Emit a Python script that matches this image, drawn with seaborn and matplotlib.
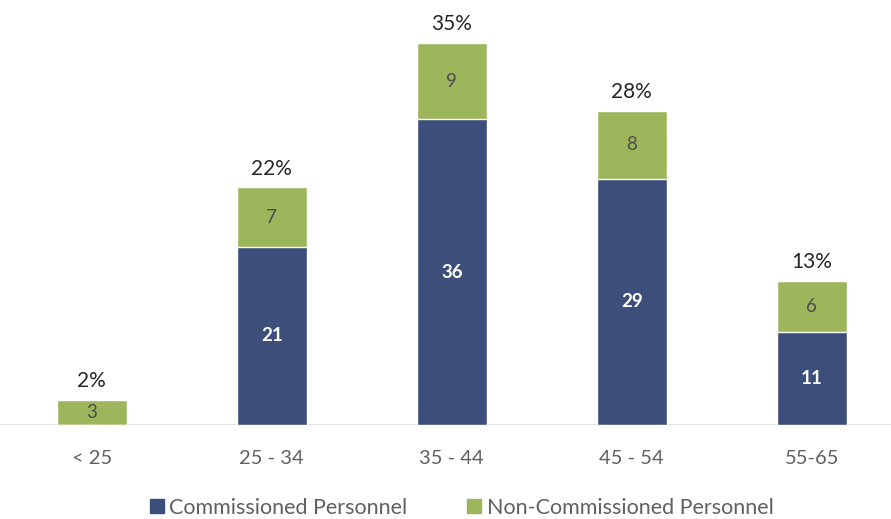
import matplotlib
matplotlib.use("Agg")
import matplotlib.pyplot as plt
import seaborn as sns
import pandas as pd
from matplotlib.patches import Patch

# chart data
age_groups = ["< 25", "25 - 34", "35 - 44", "45 - 54", "55-65"]
commissioned = [0, 21, 36, 29, 11]
non_commissioned = [3, 7, 9, 8, 6]
pct_labels = ["2%", "22%", "35%", "28%", "13%"]

navy = "#3c4f7a"
green = "#9db65b"

sns.set_theme(style="white")
plt.rcParams["font.family"] = ["Lato", "DejaVu Sans"]

df = pd.DataFrame({
    "age": age_groups,
    "commissioned": commissioned,
    "non_commissioned": non_commissioned,
})
df["total"] = df["commissioned"] + df["non_commissioned"]

fig = plt.figure(figsize=(8.91, 5.19), dpi=100)
ax = fig.add_axes([0, 0.181, 1, 0.819])

# stacked: total (green) under commissioned (navy)
sns.barplot(data=df, x="age", y="total", color=green, width=0.39,
            saturation=1, ax=ax)
sns.barplot(data=df, x="age", y="commissioned", color=navy, width=0.39,
            saturation=1, ax=ax)

ax.set_xlim(-0.51, 4.44)
ax.set_ylim(0, 50.06)
for s in ["top", "right", "left", "bottom"]:
    ax.spines[s].set_visible(False)
ax.axhline(0, color="#d9d9d9", lw=1.2, zorder=0)
ax.set_yticks([])
ax.set_xlabel("")
ax.set_ylabel("")
ax.tick_params(axis="x", length=0, pad=18, labelsize=14.5, labelcolor="#606060")

for i, row in df.iterrows():
    c, n, t = row["commissioned"], row["non_commissioned"], row["total"]
    if c > 0:
        ax.text(i, c / 2, str(c), ha="center", va="center", color="white",
                fontsize=13.5, fontweight="bold")
    ax.text(i, c + n / 2, str(n), ha="center", va="center", color="#4d4d4d",
            fontsize=13.5)
    ax.text(i, t + 1.0, pct_labels[i], ha="center", va="bottom",
            color="#262626", fontsize=15)

handles = [Patch(color=navy, label="Commissioned Personnel"),
           Patch(color=green, label="Non-Commissioned Personnel")]
fig.legend(handles=handles, loc="center", bbox_to_anchor=(0.518, 0.022),
           ncol=2, frameon=False, fontsize=15.5, handlelength=0.65,
           handleheight=0.65, handletextpad=0.25, columnspacing=2.8,
           labelcolor="#606060")

fig.savefig("out.png", dpi=100)
